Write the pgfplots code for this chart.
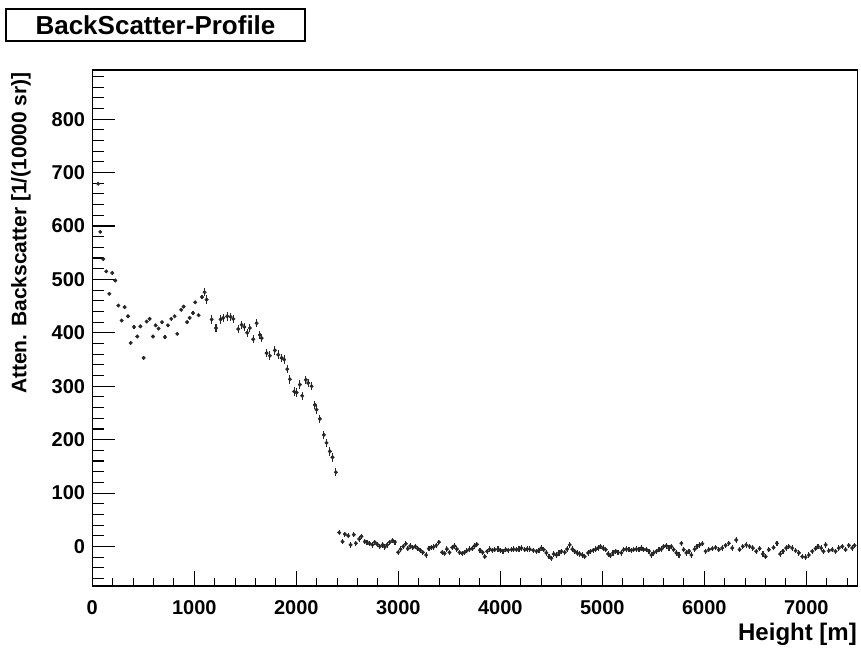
\documentclass[border=0pt]{standalone}
\usepackage{fontspec}
\setmainfont{Liberation Sans}
\usepackage{pgfplots}
\usepackage{pgfplotstable}
\pgfplotsset{compat=1.18}
\definecolor{pt}{HTML}{262626}

\pgfplotstableread{
x y
57 679
78 589
108 538
137 515
167 473
196 512
225 498
255 451
288 423
317 448
350 431
376 381
409 411
441 393
471 412
503 353
533 421
562 426
595 393
621 414
650 408
683 420
712 392
742 414
774 426
807 431
833 398
872 443
895 449
930 420
954 428
987 437
1009 457
1042 433
1075 467
}\tA

\pgfplotstableread{
x y
1101 476
1121 462
1170 425
1212 409
1258 425
1284 428
1323 431
1356 430
1382 426
1431 407
1464 415
1490 411
1519 400
1545 409
1578 388
1611 418
1643 396
1660 390
1709 362
1741 357
1790 367
1823 359
1856 353
1881 350
1911 332
1937 313
1979 290
2003 288
2035 303
2058 282
2094 312
2117 306
2150 300
2182 265
2199 256
2231 239
2270 209
2296 194
2329 178
2355 167
2388 139
}\tB

\pgfplotstableread{
x y
2421 26
2453 9
2476 23
2509 20
2532 3
2564 22
2584 6
2617 14
2639 19
2672 9
2694 8
2721 5
2747 3
2770 8
2793 4
2819 0
2846 3
2868 -1
2891 3
2917 8
2944 11
2967 8
2999 -11
3022 -5
3048 0
3074 5
3094 -4
3117 1
3143 -2
3166 0
3192 -4
3215 -7
3241 -11
3273 -16
3300 -4
3323 -2
3346 -1
3372 2
3398 8
3430 -11
3453 -13
3476 -5
3502 -11
3528 -2
3551 1
3574 -5
3600 -11
3626 -13
3649 -11
3672 -8
3698 -5
3724 -4
3747 1
3770 4
3801 -7
3827 -11
3848 -19
3871 -9
3897 -5
3923 -7
3946 -6
3978 -5
4001 -7
4027 -9
4054 -6
4077 -7
4110 -6
4132 -5
4158 -6
4184 -5
4207 -3
4240 -6
4263 -5
4289 -5
4322 -7
4354 -9
4380 -7
4403 -3
4426 -6
4452 -12
4478 -19
4501 -22
4524 -14
4550 -16
4576 -12
4599 -9
4632 -11
4655 -5
4681 3
4707 -5
4730 -9
4753 -12
4779 -14
4805 -16
4828 -19
4861 -12
4883 -9
4910 -7
4936 -5
4959 -3
4981 0
5008 -3
5034 -6
5057 -14
5079 -17
5105 -12
5132 -9
5154 -11
5187 -12
5210 -6
5236 -5
5262 -6
5285 -7
5308 -6
5334 -5
5360 -6
5383 -3
5406 -6
5432 -6
5458 -9
5481 -16
5504 -12
5530 -9
5556 -6
5579 -5
5602 0
5628 1
5654 -3
5677 0
5700 -6
5726 -12
5752 -16
5775 6
5798 -6
5824 -12
5850 -9
5873 -16
5906 -5
5929 0
5955 3
5981 5
6013 -9
6045 -6
6078 -4
6111 -2
6143 -6
6176 -3
6209 2
6241 6
6274 -3
6313 12
6346 -6
6378 0
6411 3
6444 0
6476 -3
6509 -9
6542 -4
6575 -14
6601 -19
6633 -6
6679 -2
6712 6
6744 -14
6771 -9
6803 -3
6829 0
6862 -3
6895 -8
6927 -12
6960 -19
6993 -20
7025 -16
7058 -9
7091 -4
7114 0
7146 -3
7169 -9
7189 3
7221 -8
7254 -6
7287 -9
7319 -3
7352 0
7385 -6
7417 2
7450 -3
7473 2
}\tC

\begin{document}
\begin{tikzpicture}
\path[use as bounding box] (0,0) rectangle (861pt,650pt);
\pgfplotsset{
  base/.style={
    at={(92.3pt,64pt)}, anchor=south west, scale only axis,
    width=765pt, height=516pt,
    xmin=0, xmax=7500, ymin=-74, ymax=892,
    axis line style={line width=1.2pt, black},
    tick align=inside,
    xtick pos=left, ytick pos=left,
    every tick/.style={line width=1.1pt, black},
    /pgf/number format/assume math mode=true,
    /pgf/number format/1000 sep={},
    tick label style={font=\bfseries\fontsize{20}{20}\selectfont, inner sep=0pt},
  },
  pts/.style={only marks, color=pt, mark=*, mark size=1.8pt},
}
\begin{axis}[base,
  ytick={0,100,...,800}, minor ytick={-60,-40,...,880},
  major tick length=23pt, minor tick length=12pt,
  xtick=\empty,
  yticklabel style={anchor=east, xshift=-7pt},
  clip=true,
]
\addplot[pts,
  error bars/.cd, y dir=both, y fixed=3, error mark=none,
  error bar style={line width=1.2pt, color=pt}] table {\tA};
\addplot[pts,
  error bars/.cd, y dir=both, y fixed=8, x dir=both, x fixed=12, error mark=none,
  error bar style={line width=1.2pt, color=pt}] table {\tB};
\addplot[pts,
  error bars/.cd, y dir=both, y fixed=5, x dir=both, x fixed=12, error mark=none,
  error bar style={line width=1.2pt, color=pt}] table {\tC};
\end{axis}
\begin{axis}[base,
  ytick=\empty,
  xtick={0,1000,...,7000}, minor xtick={200,400,...,7400},
  xticklabel style={anchor=north, yshift=-14pt},
  major tick length=15pt, minor tick length=8pt,
]
\end{axis}
\node[rotate=90, anchor=north east, inner sep=0pt, font=\bfseries\fontsize{21}{21}\selectfont] at (11pt,578pt) {Atten. Backscatter [1/(10000 sr)]};
\node[anchor=base east, inner sep=0pt, font=\bfseries\fontsize{24}{24}\selectfont] at (857pt,10pt) {Height [m]};
\draw[line width=1.1pt] (6pt,609pt) rectangle (305pt,641pt);
\node[inner sep=0pt, font=\bfseries\fontsize{26}{26}\selectfont] at (155.5pt,625pt) {BackScatter-Profile};
\end{tikzpicture}
\end{document}
